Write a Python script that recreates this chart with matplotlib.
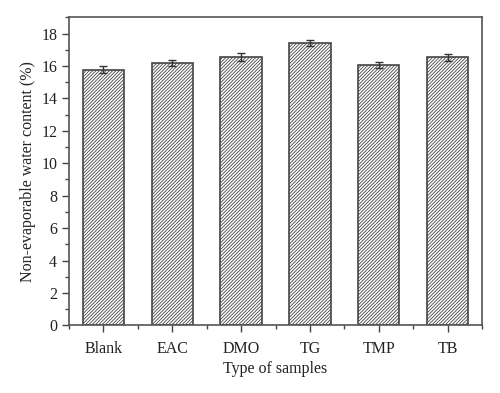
import matplotlib
matplotlib.use("Agg")
import matplotlib.pyplot as plt
from matplotlib.ticker import MultipleLocator

categories = ["Blank", "EAC", "DMO", "TG", "TMP", "TB"]
values = [15.76, 16.19, 16.54, 17.40, 16.04, 16.54]
errors = [0.22, 0.18, 0.25, 0.20, 0.18, 0.22]

plt.rcParams['font.family'] = ['Liberation Serif', 'DejaVu Serif']
plt.rcParams['hatch.linewidth'] = 0.6
plt.rcParams['hatch.color'] = '#444444'

fig = plt.figure(figsize=(5.0, 3.93), dpi=100)
ax = fig.add_axes([0.138, 0.172, 0.826, 0.784])

x = list(range(len(categories)))
ax.bar(x, values, width=0.6, color='white', edgecolor='#444444',
       linewidth=1.2, hatch='/' * 10, zorder=2)
ax.errorbar(x, values, yerr=errors, fmt='none', ecolor='#333333',
            elinewidth=1.0, capsize=3, capthick=1.0, zorder=3)

ax.set_xlim(-0.5, 5.5)
ax.set_ylim(0, 19)
ax.set_xticks(x)
ax.set_xticklabels(categories)
ax.set_xticks([i + 0.5 for i in range(-1, 6)], minor=True)
ax.yaxis.set_minor_locator(MultipleLocator(1))
ax.set_yticks(range(0, 19, 2))

for s in ax.spines.values():
    s.set_color('#555555')
    s.set_linewidth(1.2)

ax.tick_params(axis='both', which='major', direction='out', length=5,
               width=1.0, color='#444444', labelsize=11.5, labelcolor='#222222')
ax.tick_params(axis='both', which='minor', direction='out', length=3,
               width=1.0, color='#444444')
ax.tick_params(axis='x', which='major', pad=6)

ax.set_ylabel("Non-evaporable water content (%)", fontsize=11.5, color='#222222')
ax.set_xlabel("Type of samples", fontsize=11.5, color='#222222', labelpad=3)

fig.savefig("out.png", dpi=100, facecolor='white')
